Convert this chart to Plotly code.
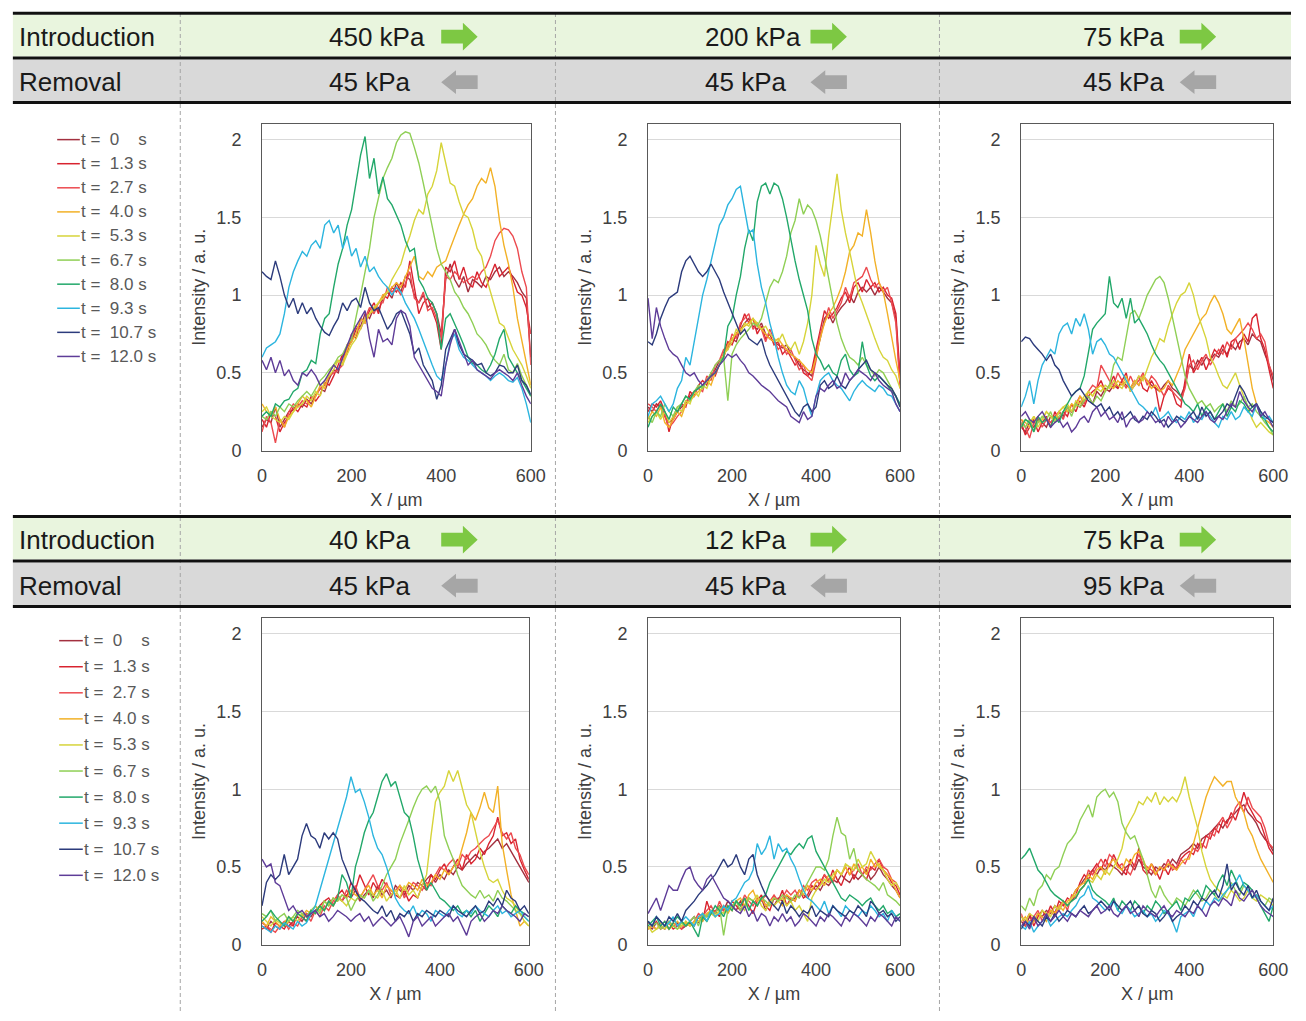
import plotly.graph_objects as go

W, H = 1306, 1021

# ---------------- data ----------------
X_UM = list(range(0, 601, 10))
LEGEND_LABELS = ["t =  0    s", "t =  1.3 s", "t =  2.7 s", "t =  4.0 s", "t =  5.3 s",
                 "t =  6.7 s", "t =  8.0 s", "t =  9.3 s", "t =  10.7 s", "t =  12.0 s"]
COLORS = ["#a3303f", "#d8232f", "#ec4a4f", "#f2b127", "#d6d43a",
          "#8fcf55", "#22a86a", "#2cb5df", "#2c3b7c", "#5e3c98"]
INTRO_P = ["450 kPa", "200 kPa", "75 kPa", "40 kPa", "12 kPa", "75 kPa"]
REMOVAL_P = ["45 kPa", "45 kPa", "45 kPa", "45 kPa", "45 kPa", "95 kPa"]
X_TICKS = [0, 200, 400, 600]
Y_TICKS = [0, 0.5, 1, 1.5, 2]
Y_TICK_TEXT = ["0", "0.5", "1", "1.5", "2"]

# Panel 1 : 450 kPa / 45 kPa
p1_t00 = [0.15,0.20,0.18,0.28,0.15,0.20,0.25,0.26,0.30,0.28,
          0.33,0.30,0.36,0.40,0.38,0.46,0.52,0.50,0.60,0.66,
          0.70,0.78,0.80,0.88,0.85,0.92,0.90,0.98,1.02,0.98,
          1.08,1.02,1.12,1.10,1.00,0.95,1.00,0.92,0.95,0.88,
          0.75,1.10,1.20,1.10,1.05,1.12,1.02,1.10,1.08,1.05,
          1.12,1.10,1.15,1.18,1.12,1.15,1.12,1.08,1.02,0.98,0.60]
p1_t13 = [0.20,0.15,0.25,0.22,0.12,0.18,0.22,0.28,0.25,0.30,
          0.28,0.35,0.32,0.36,0.44,0.42,0.48,0.55,0.62,0.62,
          0.75,0.72,0.85,0.82,0.90,0.95,0.88,1.00,0.98,1.05,
          1.02,1.08,1.05,1.22,1.05,0.88,0.95,0.98,0.90,0.82,
          0.65,1.18,1.15,1.22,1.10,1.18,1.08,1.05,1.15,1.08,
          1.05,1.12,1.20,1.12,1.15,1.18,1.10,1.02,1.00,0.92,0.75]
p1_t27 = [0.12,0.22,0.18,0.05,0.20,0.15,0.25,0.30,0.28,0.32,
          0.30,0.33,0.35,0.40,0.42,0.48,0.50,0.52,0.55,0.68,
          0.72,0.80,0.78,0.85,0.92,0.88,0.95,0.95,1.05,1.02,
          1.05,1.00,1.08,1.15,0.98,0.95,1.02,0.90,0.92,0.85,
          0.72,1.12,1.10,1.15,1.12,1.08,1.10,1.12,1.10,1.15,
          1.18,1.25,1.35,1.40,1.43,1.42,1.38,1.30,1.15,1.05,0.55]
p1_t40 = [0.30,0.25,0.22,0.28,0.20,0.15,0.22,0.25,0.30,0.35,
          0.32,0.28,0.35,0.42,0.40,0.50,0.55,0.58,0.56,0.65,
          0.70,0.75,0.85,0.82,0.88,0.90,0.95,1.00,1.02,1.05,
          1.08,1.05,1.12,1.18,1.25,1.12,1.10,1.15,1.12,1.18,
          1.20,1.22,1.30,1.38,1.45,1.52,1.58,1.62,1.70,1.75,
          1.72,1.82,1.70,1.48,1.32,1.20,1.05,0.85,0.70,0.55,0.42]
p1_t53 = [0.25,0.28,0.22,0.20,0.18,0.22,0.20,0.25,0.28,0.30,
          0.35,0.32,0.38,0.35,0.45,0.48,0.52,0.58,0.55,0.62,
          0.68,0.72,0.78,0.85,0.88,0.92,0.95,0.98,1.02,1.10,
          1.15,1.20,1.30,1.38,1.48,1.55,1.52,1.65,1.70,1.80,
          1.98,1.85,1.72,1.70,1.60,1.52,1.50,1.42,1.30,1.25,
          1.12,1.02,0.92,0.82,0.80,0.72,0.65,0.60,0.55,0.48,0.40]
p1_t67 = [0.22,0.20,0.25,0.22,0.28,0.25,0.30,0.28,0.32,0.35,
          0.38,0.35,0.40,0.45,0.48,0.52,0.55,0.60,0.62,0.68,
          0.72,0.85,1.00,1.15,1.30,1.50,1.62,1.75,1.82,1.88,
          1.98,2.03,2.05,2.04,1.95,1.85,1.72,1.58,1.45,1.30,
          1.20,1.15,1.10,1.02,0.98,0.92,0.88,0.82,0.75,0.72,
          0.68,0.62,0.58,0.55,0.62,0.52,0.50,0.56,0.48,0.42,0.35]
p1_t80 = [0.22,0.25,0.22,0.30,0.28,0.32,0.33,0.38,0.40,0.50,
          0.52,0.58,0.56,0.75,0.85,0.88,1.05,1.20,1.30,1.45,
          1.55,1.72,1.90,2.02,1.75,1.88,1.65,1.76,1.62,1.58,
          1.52,1.45,1.35,1.28,1.30,1.10,1.05,0.98,0.95,0.88,
          0.65,0.85,0.88,0.82,0.75,0.68,0.60,0.56,0.55,0.52,
          0.50,0.55,0.62,0.72,0.78,0.60,0.55,0.50,0.45,0.40,0.35]
p1_t93 = [0.60,0.66,0.68,0.70,0.75,0.88,1.05,1.15,1.22,1.28,
          1.25,1.32,1.35,1.30,1.45,1.48,1.40,1.45,1.30,1.38,
          1.25,1.30,1.18,1.25,1.15,1.18,1.12,1.08,1.05,1.00,
          1.05,1.02,0.95,0.90,0.85,0.78,0.70,0.62,0.55,0.48,
          0.45,0.55,0.70,0.75,0.65,0.60,0.58,0.55,0.52,0.50,
          0.48,0.45,0.48,0.50,0.48,0.45,0.44,0.47,0.40,0.30,0.18]
p1_t107 = [1.15,1.12,1.10,1.22,1.12,1.00,0.92,0.98,0.88,0.95,
           0.88,0.92,0.85,0.80,0.76,0.74,0.80,0.85,0.95,0.90,
           0.96,0.98,0.92,1.05,0.95,0.90,0.92,0.85,0.78,0.82,
           0.88,0.90,0.82,0.75,0.62,0.66,0.55,0.50,0.45,0.33,
           0.42,0.65,0.72,0.78,0.68,0.62,0.60,0.58,0.55,0.56,
           0.50,0.48,0.50,0.55,0.54,0.50,0.50,0.55,0.45,0.42,0.36]
p1_t120 = [0.58,0.52,0.60,0.50,0.58,0.48,0.52,0.45,0.42,0.50,
           0.48,0.52,0.48,0.42,0.45,0.50,0.55,0.52,0.60,0.68,
           0.75,0.80,0.85,0.90,0.72,0.60,0.78,0.70,0.72,0.68,
           0.85,0.90,0.88,0.80,0.60,0.55,0.50,0.45,0.40,0.38,
           0.35,0.55,0.68,0.78,0.70,0.62,0.55,0.58,0.52,0.50,
           0.48,0.46,0.50,0.52,0.50,0.48,0.45,0.50,0.42,0.35,0.30]

# Panel 2 : 200 kPa / 45 kPa
p2_t00 = [0.28,0.25,0.30,0.28,0.22,0.18,0.20,0.25,0.28,0.30,
          0.35,0.38,0.40,0.42,0.45,0.48,0.52,0.58,0.60,0.68,
          0.72,0.70,0.78,0.82,0.85,0.80,0.78,0.82,0.75,0.72,
          0.70,0.68,0.66,0.68,0.62,0.60,0.55,0.52,0.50,0.48,
          0.62,0.72,0.85,0.88,0.82,0.88,0.92,0.95,1.00,0.95,
          1.02,1.05,1.02,1.05,1.00,1.05,1.02,0.98,0.95,0.85,0.42]
p2_t13 = [0.25,0.30,0.28,0.32,0.25,0.12,0.22,0.25,0.30,0.28,
          0.38,0.35,0.42,0.45,0.42,0.50,0.48,0.55,0.62,0.70,
          0.68,0.75,0.80,0.88,0.82,0.85,0.75,0.80,0.72,0.75,
          0.68,0.70,0.62,0.65,0.60,0.55,0.58,0.50,0.48,0.52,
          0.65,0.78,0.90,0.85,0.88,0.92,0.98,1.02,0.95,1.05,
          1.08,1.02,1.10,1.05,1.08,1.02,1.05,1.00,0.98,0.88,0.48]
p2_t27 = [0.30,0.28,0.25,0.30,0.22,0.15,0.18,0.22,0.25,0.32,
          0.33,0.38,0.40,0.38,0.48,0.45,0.55,0.58,0.65,0.65,
          0.75,0.72,0.82,0.85,0.88,0.78,0.82,0.78,0.70,0.78,
          0.72,0.65,0.68,0.62,0.65,0.58,0.52,0.55,0.48,0.45,
          0.58,0.75,0.82,0.92,0.85,0.90,0.95,1.05,0.98,1.08,
          1.10,1.12,1.18,1.10,1.05,1.08,1.02,1.05,0.95,0.82,0.40]
p2_t40 = [0.20,0.25,0.22,0.28,0.18,0.15,0.20,0.25,0.22,0.30,
          0.32,0.35,0.38,0.40,0.45,0.42,0.50,0.55,0.60,0.68,
          0.72,0.75,0.78,0.80,0.82,0.85,0.80,0.78,0.75,0.72,
          0.70,0.72,0.68,0.65,0.62,0.60,0.58,0.55,0.52,0.50,
          0.60,0.72,0.82,0.88,0.92,0.98,1.05,1.15,1.28,1.32,
          1.40,1.38,1.55,1.40,1.22,1.08,1.02,0.88,0.72,0.58,0.45]
p2_t53 = [0.18,0.22,0.25,0.20,0.25,0.18,0.22,0.28,0.25,0.32,
          0.30,0.38,0.35,0.42,0.40,0.48,0.50,0.55,0.62,0.65,
          0.70,0.78,0.75,0.82,0.80,0.85,0.82,0.78,0.80,0.75,
          0.72,0.70,0.75,0.68,0.65,0.70,0.62,0.70,0.82,1.00,
          1.32,1.20,1.12,1.38,1.58,1.78,1.55,1.40,1.28,1.15,
          1.02,0.95,0.88,0.80,0.72,0.65,0.60,0.58,0.52,0.48,0.40]
p2_t67 = [0.22,0.18,0.25,0.22,0.30,0.25,0.22,0.28,0.30,0.35,
          0.32,0.38,0.42,0.40,0.45,0.50,0.55,0.58,0.60,0.32,
          0.62,0.68,0.72,0.75,0.78,0.82,0.80,0.85,0.95,1.05,
          1.10,1.08,1.15,1.25,1.40,1.48,1.62,1.52,1.58,1.55,
          1.48,1.38,1.25,1.10,0.95,0.82,0.72,0.65,0.60,0.58,
          0.55,0.60,0.55,0.52,0.48,0.52,0.50,0.45,0.40,0.35,0.28]
p2_t80 = [0.15,0.22,0.25,0.30,0.25,0.20,0.28,0.25,0.30,0.35,
          0.33,0.38,0.40,0.42,0.45,0.48,0.50,0.55,0.60,0.80,
          0.85,1.00,1.12,1.30,1.42,1.35,1.60,1.70,1.72,1.65,
          1.72,1.70,1.62,1.50,1.35,1.22,1.10,1.00,0.90,0.72,
          0.62,0.58,0.52,0.55,0.50,0.48,0.58,0.62,0.52,0.48,
          0.50,0.70,0.55,0.48,0.45,0.48,0.45,0.42,0.38,0.35,0.30]
p2_t93 = [0.22,0.30,0.32,0.35,0.30,0.25,0.30,0.40,0.45,0.60,
          0.55,0.70,0.85,1.00,1.10,1.22,1.35,1.45,1.50,1.58,
          1.62,1.68,1.70,1.55,1.40,1.42,1.20,1.05,0.95,0.82,
          0.72,0.60,0.50,0.42,0.38,0.36,0.45,0.40,0.30,0.22,
          0.35,0.45,0.48,0.50,0.45,0.42,0.40,0.36,0.32,0.38,
          0.42,0.45,0.42,0.40,0.38,0.42,0.40,0.36,0.35,0.30,0.25]
p2_t107 = [0.70,0.68,0.75,0.85,0.92,0.98,1.00,1.02,1.15,1.22,
           1.25,1.20,1.15,1.12,1.15,1.20,1.15,1.10,1.02,0.95,
           0.88,0.82,0.75,0.78,0.72,0.70,0.68,0.72,0.62,0.55,
           0.50,0.45,0.40,0.35,0.30,0.25,0.22,0.28,0.30,0.25,
           0.28,0.42,0.45,0.40,0.42,0.48,0.42,0.40,0.45,0.48,
           0.52,0.55,0.58,0.52,0.50,0.48,0.45,0.42,0.40,0.35,0.28]
p2_t120 = [0.98,0.72,0.92,0.80,0.72,0.65,0.62,0.60,0.55,0.50,
           0.48,0.50,0.45,0.42,0.45,0.48,0.50,0.55,0.58,0.62,
           0.60,0.62,0.58,0.55,0.50,0.48,0.45,0.42,0.40,0.38,
           0.35,0.32,0.30,0.28,0.22,0.20,0.18,0.25,0.20,0.22,
           0.35,0.40,0.38,0.42,0.45,0.40,0.42,0.50,0.45,0.48,
           0.52,0.50,0.48,0.45,0.50,0.45,0.42,0.40,0.38,0.30,0.25]

# Panel 3 : 75 kPa / 45 kPa
p3_t00 = [0.15,0.12,0.18,0.15,0.20,0.18,0.15,0.22,0.20,0.25,
          0.22,0.28,0.25,0.30,0.28,0.32,0.35,0.30,0.38,0.35,
          0.40,0.38,0.42,0.40,0.45,0.42,0.40,0.45,0.42,0.48,
          0.45,0.42,0.40,0.38,0.42,0.45,0.40,0.38,0.35,0.42,
          0.55,0.52,0.58,0.55,0.60,0.58,0.62,0.60,0.65,0.62,
          0.68,0.65,0.70,0.72,0.68,0.75,0.72,0.70,0.62,0.55,0.45]
p3_t13 = [0.18,0.10,0.15,0.20,0.12,0.18,0.22,0.15,0.25,0.20,
          0.25,0.22,0.30,0.25,0.32,0.28,0.35,0.38,0.40,0.45,
          0.38,0.42,0.48,0.40,0.45,0.50,0.38,0.42,0.48,0.40,
          0.38,0.45,0.40,0.25,0.35,0.40,0.38,0.30,0.28,0.45,
          0.62,0.50,0.55,0.60,0.52,0.58,0.65,0.62,0.68,0.60,
          0.70,0.72,0.65,0.75,0.70,0.85,0.88,0.72,0.65,0.52,0.40]
p3_t27 = [0.20,0.15,0.08,0.18,0.22,0.15,0.20,0.18,0.22,0.25,
          0.20,0.28,0.25,0.30,0.35,0.30,0.38,0.42,0.40,0.55,
          0.50,0.45,0.42,0.50,0.45,0.40,0.48,0.42,0.45,0.50,
          0.42,0.48,0.45,0.40,0.35,0.42,0.38,0.35,0.32,0.40,
          0.55,0.58,0.52,0.58,0.62,0.55,0.60,0.65,0.62,0.70,
          0.65,0.72,0.75,0.78,0.82,0.78,0.72,0.75,0.70,0.55,0.48]
p3_t40 = [0.20,0.18,0.15,0.22,0.18,0.20,0.25,0.22,0.20,0.25,
          0.28,0.25,0.30,0.28,0.35,0.32,0.38,0.35,0.40,0.42,
          0.38,0.42,0.40,0.45,0.42,0.48,0.40,0.45,0.42,0.48,
          0.45,0.40,0.42,0.38,0.40,0.45,0.42,0.48,0.55,0.65,
          0.70,0.75,0.80,0.85,0.88,0.95,1.00,0.95,0.88,0.78,
          0.75,0.80,0.85,0.72,0.55,0.40,0.30,0.25,0.20,0.18,0.15]
p3_t53 = [0.15,0.20,0.18,0.22,0.15,0.20,0.25,0.22,0.18,0.25,
          0.28,0.30,0.25,0.32,0.30,0.35,0.38,0.35,0.40,0.38,
          0.42,0.40,0.45,0.42,0.40,0.45,0.38,0.42,0.48,0.45,
          0.52,0.60,0.65,0.72,0.70,0.80,0.88,0.95,1.00,1.02,
          1.08,1.00,0.88,0.80,0.72,0.60,0.55,0.48,0.42,0.40,
          0.45,0.50,0.42,0.35,0.28,0.20,0.15,0.18,0.15,0.12,0.10]
p3_t67 = [0.18,0.15,0.20,0.12,0.18,0.22,0.20,0.25,0.18,0.22,
          0.25,0.28,0.22,0.30,0.28,0.32,0.35,0.30,0.35,0.32,
          0.38,0.42,0.55,0.60,0.58,0.72,0.88,0.90,0.85,0.92,
          1.00,1.05,1.10,1.12,1.08,0.98,0.85,0.72,0.60,0.48,
          0.40,0.35,0.30,0.32,0.28,0.30,0.25,0.28,0.30,0.25,
          0.32,0.28,0.30,0.35,0.28,0.30,0.25,0.22,0.18,0.15,0.10]
p3_t80 = [0.15,0.20,0.18,0.12,0.22,0.18,0.20,0.15,0.22,0.18,
          0.25,0.30,0.35,0.38,0.40,0.48,0.62,0.78,0.82,0.85,
          0.88,1.12,0.95,0.92,0.98,0.85,0.98,0.82,0.85,0.80,
          0.75,0.68,0.62,0.58,0.55,0.50,0.45,0.40,0.35,0.30,
          0.28,0.25,0.30,0.22,0.28,0.25,0.20,0.25,0.30,0.22,
          0.28,0.25,0.32,0.30,0.25,0.28,0.30,0.22,0.20,0.15,0.12]
p3_t93 = [0.28,0.35,0.45,0.30,0.45,0.55,0.60,0.65,0.62,0.75,
          0.80,0.82,0.75,0.85,0.80,0.88,0.78,0.62,0.70,0.72,
          0.68,0.62,0.60,0.55,0.50,0.45,0.40,0.35,0.30,0.28,
          0.25,0.22,0.28,0.20,0.22,0.25,0.20,0.18,0.22,0.20,
          0.25,0.18,0.22,0.20,0.25,0.22,0.18,0.15,0.22,0.20,
          0.25,0.20,0.22,0.28,0.25,0.22,0.30,0.25,0.20,0.22,0.18]
p3_t107 = [0.70,0.73,0.72,0.68,0.65,0.62,0.58,0.62,0.55,0.52,
           0.45,0.40,0.35,0.38,0.40,0.36,0.32,0.30,0.28,0.30,
           0.25,0.28,0.22,0.25,0.20,0.22,0.25,0.20,0.18,0.22,
           0.20,0.25,0.22,0.18,0.20,0.15,0.18,0.22,0.20,0.18,
           0.22,0.25,0.20,0.28,0.22,0.25,0.20,0.22,0.25,0.30,
           0.28,0.35,0.42,0.38,0.32,0.28,0.30,0.25,0.22,0.20,0.18]
p3_t120 = [0.22,0.25,0.20,0.18,0.22,0.25,0.20,0.15,0.18,0.20,
           0.15,0.18,0.12,0.15,0.20,0.22,0.18,0.25,0.28,0.22,
           0.25,0.20,0.22,0.18,0.25,0.15,0.20,0.22,0.18,0.20,
           0.25,0.22,0.18,0.20,0.15,0.22,0.18,0.20,0.15,0.18,
           0.22,0.20,0.18,0.22,0.25,0.20,0.18,0.22,0.20,0.25,
           0.30,0.28,0.38,0.32,0.28,0.25,0.30,0.22,0.25,0.20,0.15]

# Panel 4 : 40 kPa / 45 kPa
p4_t00 = [0.12,0.10,0.15,0.12,0.10,0.14,0.12,0.15,0.18,0.15,
          0.20,0.18,0.22,0.25,0.22,0.28,0.25,0.30,0.28,0.32,
          0.30,0.35,0.28,0.32,0.35,0.30,0.38,0.32,0.35,0.30,
          0.38,0.35,0.32,0.38,0.35,0.40,0.38,0.42,0.45,0.40,
          0.45,0.42,0.48,0.45,0.50,0.48,0.52,0.55,0.58,0.55,
          0.60,0.62,0.65,0.68,0.62,0.65,0.60,0.55,0.50,0.45,0.40]
p4_t13 = [0.10,0.12,0.08,0.14,0.12,0.10,0.15,0.12,0.20,0.18,
          0.15,0.22,0.20,0.25,0.28,0.30,0.25,0.32,0.35,0.30,
          0.40,0.35,0.45,0.38,0.32,0.40,0.35,0.42,0.38,0.35,
          0.32,0.30,0.35,0.28,0.32,0.30,0.38,0.35,0.45,0.42,
          0.48,0.52,0.45,0.50,0.55,0.48,0.58,0.52,0.55,0.62,
          0.58,0.65,0.70,0.82,0.70,0.72,0.65,0.68,0.55,0.48,0.42]
p4_t27 = [0.14,0.12,0.10,0.08,0.12,0.15,0.10,0.14,0.12,0.18,
          0.20,0.15,0.22,0.18,0.25,0.22,0.28,0.32,0.28,0.35,
          0.32,0.38,0.30,0.35,0.40,0.45,0.38,0.35,0.40,0.32,
          0.35,0.38,0.30,0.35,0.40,0.38,0.35,0.40,0.38,0.45,
          0.50,0.48,0.52,0.55,0.50,0.58,0.55,0.60,0.62,0.65,
          0.68,0.70,0.75,0.80,0.72,0.68,0.72,0.62,0.58,0.50,0.45]
p4_t40 = [0.15,0.12,0.18,0.15,0.12,0.14,0.18,0.15,0.20,0.18,
          0.22,0.20,0.25,0.22,0.28,0.25,0.30,0.28,0.32,0.30,
          0.35,0.32,0.30,0.35,0.38,0.32,0.35,0.30,0.38,0.35,
          0.32,0.38,0.35,0.40,0.38,0.35,0.42,0.38,0.40,0.45,
          0.42,0.48,0.45,0.50,0.52,0.62,0.72,0.85,0.80,0.88,
          0.98,0.88,0.85,1.02,0.65,0.48,0.32,0.22,0.12,0.15,0.12]
p4_t53 = [0.18,0.15,0.12,0.16,0.14,0.12,0.15,0.18,0.15,0.20,
          0.18,0.22,0.20,0.25,0.22,0.28,0.25,0.30,0.28,0.25,
          0.30,0.28,0.32,0.30,0.35,0.32,0.30,0.35,0.28,0.32,
          0.35,0.30,0.38,0.32,0.35,0.30,0.38,0.45,0.70,0.92,
          0.98,1.02,1.12,1.05,1.12,1.00,0.90,0.85,0.72,0.60,
          0.50,0.42,0.40,0.42,0.35,0.30,0.28,0.25,0.20,0.15,0.12]
p4_t67 = [0.20,0.18,0.22,0.15,0.18,0.20,0.15,0.18,0.22,0.20,
          0.18,0.22,0.25,0.20,0.28,0.25,0.30,0.28,0.32,0.30,
          0.22,0.28,0.32,0.30,0.35,0.28,0.32,0.38,0.45,0.50,
          0.55,0.65,0.72,0.80,0.88,0.95,1.00,1.02,0.98,1.02,
          0.92,0.70,0.62,0.55,0.45,0.38,0.35,0.32,0.30,0.35,
          0.30,0.32,0.28,0.35,0.30,0.28,0.25,0.22,0.20,0.18,0.15]
p4_t80 = [0.15,0.18,0.22,0.18,0.15,0.12,0.18,0.15,0.20,0.18,
          0.15,0.22,0.20,0.25,0.22,0.28,0.25,0.30,0.45,0.40,
          0.30,0.50,0.60,0.72,0.80,0.85,0.95,1.05,1.10,1.02,
          1.05,0.95,0.85,0.82,0.70,0.55,0.45,0.35,0.40,0.35,
          0.30,0.28,0.25,0.22,0.25,0.20,0.22,0.18,0.22,0.15,
          0.20,0.25,0.22,0.18,0.25,0.22,0.20,0.25,0.22,0.20,0.18]
p4_t93 = [0.12,0.10,0.08,0.12,0.10,0.14,0.12,0.10,0.15,0.12,
          0.14,0.20,0.25,0.35,0.45,0.55,0.65,0.75,0.85,0.95,
          1.08,0.98,1.00,0.92,0.82,0.70,0.62,0.58,0.50,0.40,
          0.30,0.25,0.22,0.20,0.25,0.18,0.22,0.20,0.15,0.22,
          0.20,0.18,0.22,0.25,0.20,0.18,0.22,0.20,0.25,0.22,
          0.20,0.18,0.22,0.25,0.20,0.22,0.18,0.20,0.22,0.18,0.15]
p4_t107 = [0.25,0.40,0.45,0.42,0.45,0.58,0.45,0.50,0.55,0.70,
           0.78,0.70,0.68,0.62,0.72,0.68,0.72,0.68,0.55,0.48,
           0.40,0.35,0.30,0.28,0.25,0.22,0.20,0.25,0.18,0.22,
           0.15,0.20,0.18,0.22,0.15,0.20,0.18,0.22,0.20,0.18,
           0.22,0.20,0.18,0.25,0.22,0.20,0.18,0.22,0.25,0.20,
           0.22,0.28,0.25,0.30,0.25,0.35,0.30,0.28,0.22,0.25,0.20]
p4_t120 = [0.55,0.50,0.52,0.40,0.38,0.30,0.22,0.25,0.20,0.22,
           0.18,0.20,0.22,0.18,0.20,0.15,0.18,0.22,0.20,0.18,
           0.15,0.18,0.20,0.15,0.18,0.12,0.15,0.18,0.15,0.12,
           0.15,0.18,0.12,0.05,0.15,0.18,0.12,0.15,0.18,0.12,
           0.15,0.18,0.20,0.15,0.18,0.12,0.06,0.15,0.18,0.20,
           0.15,0.18,0.22,0.20,0.25,0.22,0.20,0.18,0.15,0.20,0.18]

# Panel 5 : 12 kPa / 45 kPa
p5_t00 = [0.12,0.10,0.14,0.12,0.10,0.15,0.12,0.14,0.10,0.12,
          0.15,0.18,0.14,0.20,0.18,0.22,0.20,0.25,0.22,0.28,
          0.25,0.22,0.28,0.25,0.30,0.28,0.25,0.30,0.22,0.28,
          0.25,0.30,0.28,0.32,0.28,0.30,0.35,0.32,0.30,0.35,
          0.38,0.35,0.40,0.38,0.42,0.40,0.45,0.42,0.40,0.45,
          0.42,0.45,0.48,0.42,0.45,0.50,0.45,0.42,0.38,0.35,0.30]
p5_t13 = [0.10,0.12,0.15,0.10,0.12,0.14,0.10,0.12,0.15,0.12,
          0.14,0.12,0.18,0.15,0.28,0.20,0.22,0.18,0.25,0.22,
          0.28,0.25,0.22,0.30,0.25,0.20,0.28,0.32,0.25,0.22,
          0.30,0.28,0.35,0.25,0.30,0.28,0.35,0.30,0.32,0.38,
          0.35,0.40,0.45,0.40,0.48,0.42,0.38,0.45,0.50,0.42,
          0.48,0.45,0.42,0.50,0.48,0.55,0.48,0.45,0.40,0.38,0.32]
p5_t27 = [0.14,0.12,0.10,0.12,0.15,0.10,0.14,0.12,0.10,0.15,
          0.12,0.15,0.20,0.18,0.22,0.25,0.20,0.28,0.22,0.25,
          0.22,0.28,0.25,0.32,0.28,0.25,0.30,0.28,0.32,0.28,
          0.32,0.28,0.30,0.35,0.32,0.35,0.30,0.38,0.35,0.40,
          0.42,0.38,0.45,0.42,0.40,0.48,0.45,0.50,0.45,0.48,
          0.52,0.45,0.50,0.48,0.52,0.55,0.50,0.48,0.42,0.40,0.35]
p5_t40 = [0.10,0.12,0.10,0.14,0.12,0.10,0.12,0.15,0.12,0.14,
          0.12,0.15,0.18,0.15,0.20,0.22,0.18,0.22,0.25,0.20,
          0.25,0.28,0.30,0.25,0.32,0.35,0.28,0.30,0.25,0.28,
          0.30,0.28,0.25,0.32,0.30,0.28,0.35,0.32,0.38,0.35,
          0.40,0.42,0.38,0.45,0.42,0.48,0.45,0.50,0.45,0.52,
          0.48,0.50,0.45,0.55,0.50,0.52,0.48,0.45,0.42,0.35,0.30]
p5_t53 = [0.12,0.08,0.10,0.12,0.10,0.14,0.12,0.10,0.12,0.15,
          0.12,0.14,0.15,0.18,0.15,0.20,0.18,0.22,0.20,0.25,
          0.22,0.28,0.25,0.22,0.30,0.28,0.32,0.25,0.22,0.28,
          0.25,0.28,0.30,0.25,0.28,0.22,0.25,0.20,0.15,0.30,
          0.35,0.38,0.42,0.40,0.45,0.48,0.45,0.52,0.50,0.48,
          0.55,0.50,0.52,0.60,0.55,0.50,0.48,0.42,0.38,0.40,0.35]
p5_t67 = [0.15,0.12,0.14,0.10,0.12,0.15,0.12,0.10,0.14,0.12,
          0.15,0.18,0.12,0.20,0.18,0.22,0.20,0.25,0.06,0.22,
          0.25,0.28,0.22,0.25,0.30,0.28,0.25,0.30,0.28,0.25,
          0.30,0.28,0.32,0.30,0.28,0.32,0.30,0.35,0.40,0.45,
          0.50,0.50,0.48,0.55,0.70,0.82,0.72,0.70,0.55,0.62,
          0.48,0.45,0.42,0.40,0.38,0.35,0.40,0.32,0.30,0.28,0.25]
p5_t80 = [0.12,0.15,0.18,0.12,0.15,0.10,0.14,0.18,0.15,0.12,
          0.15,0.10,0.05,0.18,0.15,0.20,0.25,0.22,0.18,0.25,
          0.22,0.28,0.25,0.30,0.22,0.28,0.25,0.30,0.32,0.40,
          0.45,0.50,0.55,0.60,0.58,0.62,0.65,0.62,0.68,0.70,
          0.60,0.55,0.50,0.45,0.40,0.35,0.30,0.28,0.32,0.30,
          0.28,0.25,0.28,0.30,0.25,0.22,0.25,0.20,0.22,0.18,0.20]
p5_t93 = [0.15,0.12,0.18,0.15,0.12,0.14,0.18,0.12,0.15,0.18,
          0.15,0.12,0.18,0.20,0.15,0.22,0.18,0.20,0.25,0.22,
          0.28,0.30,0.35,0.40,0.42,0.48,0.65,0.58,0.62,0.70,
          0.55,0.65,0.60,0.62,0.55,0.50,0.42,0.35,0.30,0.28,
          0.25,0.22,0.28,0.20,0.25,0.22,0.18,0.25,0.22,0.20,
          0.18,0.22,0.20,0.25,0.22,0.18,0.20,0.15,0.22,0.18,0.15]
p5_t107 = [0.15,0.12,0.18,0.15,0.12,0.18,0.15,0.20,0.15,0.22,
           0.25,0.28,0.32,0.35,0.38,0.42,0.45,0.50,0.55,0.50,
           0.52,0.58,0.50,0.45,0.55,0.58,0.45,0.38,0.32,0.28,
           0.25,0.22,0.28,0.20,0.25,0.22,0.18,0.22,0.20,0.25,
           0.18,0.22,0.20,0.18,0.25,0.22,0.20,0.18,0.22,0.20,
           0.25,0.22,0.18,0.28,0.25,0.20,0.22,0.18,0.20,0.15,0.18]
p5_t120 = [0.20,0.25,0.30,0.22,0.30,0.38,0.35,0.35,0.42,0.48,
           0.50,0.42,0.38,0.35,0.42,0.45,0.40,0.35,0.30,0.28,
           0.25,0.22,0.20,0.25,0.18,0.22,0.15,0.20,0.18,0.12,
           0.18,0.15,0.20,0.15,0.18,0.12,0.15,0.20,0.18,0.15,
           0.12,0.18,0.15,0.20,0.18,0.15,0.12,0.18,0.15,0.20,
           0.18,0.15,0.12,0.18,0.15,0.20,0.18,0.15,0.12,0.18,0.15]

# Panel 6 : 75 kPa / 95 kPa
p6_t00 = [0.15,0.12,0.18,0.15,0.20,0.18,0.22,0.20,0.25,0.22,
          0.28,0.25,0.30,0.35,0.38,0.42,0.45,0.48,0.45,0.50,
          0.48,0.52,0.50,0.48,0.45,0.50,0.52,0.48,0.55,0.50,
          0.48,0.45,0.50,0.48,0.52,0.50,0.55,0.52,0.58,0.60,
          0.62,0.65,0.62,0.68,0.70,0.72,0.75,0.78,0.75,0.80,
          0.82,0.85,0.88,0.90,0.85,0.82,0.78,0.72,0.68,0.65,0.60]
p6_t13 = [0.18,0.15,0.20,0.12,0.18,0.22,0.18,0.25,0.20,0.28,
          0.25,0.30,0.28,0.32,0.40,0.45,0.42,0.48,0.52,0.48,
          0.55,0.50,0.58,0.52,0.48,0.45,0.55,0.50,0.62,0.48,
          0.45,0.52,0.48,0.42,0.50,0.45,0.52,0.48,0.55,0.58,
          0.60,0.58,0.65,0.62,0.70,0.68,0.75,0.72,0.80,0.78,
          0.85,0.80,0.88,0.98,0.90,0.85,0.80,0.78,0.70,0.62,0.58]
p6_t27 = [0.20,0.12,0.15,0.18,0.22,0.15,0.20,0.22,0.18,0.25,
          0.28,0.22,0.32,0.30,0.35,0.38,0.48,0.45,0.50,0.55,
          0.50,0.58,0.55,0.50,0.52,0.48,0.45,0.52,0.58,0.52,
          0.50,0.48,0.45,0.50,0.48,0.55,0.48,0.50,0.55,0.52,
          0.58,0.62,0.60,0.65,0.62,0.72,0.70,0.78,0.82,0.75,
          0.80,0.88,0.92,0.85,0.95,0.88,0.85,0.82,0.75,0.65,0.62]
p6_t40 = [0.15,0.18,0.12,0.15,0.20,0.18,0.15,0.22,0.20,0.25,
          0.22,0.28,0.30,0.35,0.38,0.40,0.45,0.42,0.48,0.50,
          0.45,0.52,0.55,0.50,0.48,0.55,0.52,0.58,0.60,0.55,
          0.48,0.52,0.45,0.50,0.48,0.52,0.50,0.48,0.52,0.55,
          0.55,0.65,0.75,0.85,0.95,1.02,1.08,1.05,1.02,1.05,
          1.05,0.95,0.90,0.85,0.75,0.70,0.62,0.55,0.50,0.45,0.40]
p6_t53 = [0.18,0.15,0.20,0.18,0.15,0.22,0.20,0.18,0.25,0.22,
          0.28,0.25,0.30,0.32,0.35,0.38,0.42,0.40,0.45,0.42,
          0.48,0.45,0.50,0.55,0.62,0.75,0.80,0.85,0.92,0.90,
          0.95,0.92,0.98,0.90,0.95,0.92,0.95,0.92,0.98,1.08,
          0.95,0.85,0.75,0.60,0.50,0.42,0.38,0.35,0.32,0.30,
          0.35,0.32,0.28,0.30,0.35,0.30,0.28,0.32,0.30,0.28,0.25]
p6_t67 = [0.25,0.22,0.30,0.25,0.35,0.38,0.45,0.42,0.48,0.50,
          0.58,0.65,0.68,0.72,0.80,0.85,0.90,0.82,0.95,0.98,
          1.00,0.95,0.98,0.92,0.78,0.72,0.68,0.70,0.62,0.55,
          0.45,0.35,0.30,0.38,0.32,0.28,0.25,0.30,0.28,0.25,
          0.30,0.35,0.32,0.28,0.30,0.35,0.32,0.28,0.30,0.35,
          0.40,0.35,0.32,0.38,0.35,0.30,0.32,0.28,0.25,0.30,0.28]
p6_t80 = [0.55,0.58,0.62,0.55,0.48,0.45,0.40,0.35,0.32,0.30,
          0.28,0.25,0.28,0.30,0.35,0.38,0.42,0.35,0.32,0.30,
          0.28,0.25,0.30,0.22,0.28,0.25,0.22,0.28,0.25,0.20,
          0.25,0.22,0.28,0.25,0.20,0.22,0.25,0.28,0.22,0.30,
          0.28,0.32,0.35,0.30,0.38,0.35,0.32,0.40,0.45,0.38,
          0.48,0.42,0.35,0.40,0.38,0.35,0.30,0.25,0.20,0.15,0.25]
p6_t93 = [0.12,0.10,0.15,0.08,0.12,0.15,0.18,0.12,0.15,0.18,
          0.20,0.18,0.22,0.25,0.30,0.32,0.38,0.30,0.28,0.25,
          0.22,0.25,0.28,0.22,0.20,0.25,0.22,0.18,0.20,0.22,
          0.18,0.20,0.15,0.18,0.22,0.20,0.15,0.08,0.18,0.20,
          0.22,0.18,0.25,0.22,0.28,0.25,0.30,0.28,0.32,0.35,
          0.38,0.40,0.45,0.38,0.35,0.30,0.32,0.28,0.25,0.22,0.25]
p6_t107 = [0.10,0.15,0.12,0.18,0.15,0.12,0.18,0.15,0.20,0.15,
           0.18,0.22,0.20,0.18,0.22,0.25,0.20,0.22,0.25,0.28,
           0.25,0.22,0.28,0.25,0.22,0.25,0.28,0.22,0.25,0.20,
           0.18,0.22,0.20,0.15,0.18,0.22,0.15,0.18,0.20,0.25,
           0.22,0.28,0.25,0.30,0.28,0.32,0.35,0.30,0.38,0.52,
           0.35,0.40,0.35,0.32,0.38,0.30,0.35,0.28,0.25,0.22,0.30]
p6_t120 = [0.12,0.15,0.10,0.18,0.12,0.15,0.20,0.15,0.18,0.22,
           0.18,0.15,0.20,0.18,0.22,0.20,0.18,0.22,0.25,0.20,
           0.22,0.25,0.20,0.18,0.22,0.25,0.20,0.22,0.18,0.25,
           0.22,0.20,0.18,0.22,0.25,0.20,0.18,0.22,0.20,0.18,
           0.22,0.20,0.25,0.22,0.18,0.25,0.28,0.25,0.30,0.28,
           0.25,0.35,0.30,0.28,0.32,0.35,0.30,0.25,0.22,0.20,0.18]

PANEL_SERIES = [
    [p1_t00, p1_t13, p1_t27, p1_t40, p1_t53, p1_t67, p1_t80, p1_t93, p1_t107, p1_t120],
    [p2_t00, p2_t13, p2_t27, p2_t40, p2_t53, p2_t67, p2_t80, p2_t93, p2_t107, p2_t120],
    [p3_t00, p3_t13, p3_t27, p3_t40, p3_t53, p3_t67, p3_t80, p3_t93, p3_t107, p3_t120],
    [p4_t00, p4_t13, p4_t27, p4_t40, p4_t53, p4_t67, p4_t80, p4_t93, p4_t107, p4_t120],
    [p5_t00, p5_t13, p5_t27, p5_t40, p5_t53, p5_t67, p5_t80, p5_t93, p5_t107, p5_t120],
    [p6_t00, p6_t13, p6_t27, p6_t40, p6_t53, p6_t67, p6_t80, p6_t93, p6_t107, p6_t120],
]

# ---------------- layout (pixel geometry) ----------------
PANEL_PX = [(261, 534, 125.3, 455), (653, 909, 125.3, 455), (1032, 1288, 125.3, 455),
            (261, 532, 624.3, 954), (653, 909, 624.3, 954), (1032, 1288, 624.3, 954)]
COL_SEP_X = [178, 559, 949]
COL_TEXT_X = [327, 709, 1093]
COL_ARROW_X = [443, 818, 1193]
BLOCKS = [dict(lines=[13.5, 58.5, 103.5], green=(15, 57), gray=(60, 102)),
          dict(lines=[521.5, 566.5, 612.5], green=(523, 565), gray=(568, 611))]
LEGEND_BLOCKS = [dict(y0=141, dy=24.33, lx0=53, lx1=76, tx=75),
                 dict(y0=647, dy=26.33, lx0=55, lx1=79, tx=78)]

FONT = "Liberation Sans, Arial, sans-serif"
TXT = "#404040"
HDR_SIZE = 26


def px(x):
    return x / W


def py(y):
    return 1 - y / H


fig = go.Figure()

for i, series in enumerate(PANEL_SERIES):
    xa = "x" if i == 0 else f"x{i + 1}"
    ya = "y" if i == 0 else f"y{i + 1}"
    for k, vals in enumerate(series):
        fig.add_trace(go.Scatter(
            x=X_UM[:len(vals)], y=vals, mode="lines", name=LEGEND_LABELS[k],
            line=dict(color=COLORS[k], width=1.4), xaxis=xa, yaxis=ya,
            showlegend=False, hoverinfo="skip"))
    l, r, t, b = PANEL_PX[i]
    xkey = "xaxis" if i == 0 else f"xaxis{i + 1}"
    ykey = "yaxis" if i == 0 else f"yaxis{i + 1}"
    fig.layout[xkey] = dict(
        domain=[px(l), px(r)], anchor=ya, range=[0, 600], tickvals=X_TICKS,
        showgrid=False, zeroline=False, showline=True, mirror=True,
        linecolor="#595959", linewidth=1, ticks="", ticklabelstandoff=9,
        tickfont=dict(size=18, color=TXT, family=FONT),
        title=dict(text="X / µm", font=dict(size=18, color=TXT, family=FONT), standoff=8))
    fig.layout[ykey] = dict(
        domain=[py(b), py(t)], anchor=xa, range=[0, 2.1], tickvals=Y_TICKS,
        ticktext=Y_TICK_TEXT, showgrid=True, gridcolor="#d9d9d9", gridwidth=1,
        zeroline=False, showline=True, mirror=True, linecolor="#595959", linewidth=1,
        ticks="", ticklabelstandoff=16,
        tickfont=dict(size=18, color=TXT, family=FONT),
        title=dict(text="Intensity / a. u.", font=dict(size=18, color=TXT, family=FONT), standoff=6))

shapes = []
annotations = []

# header bands
for blk in BLOCKS:
    g0, g1 = blk["green"]
    r0, r1 = blk["gray"]
    shapes.append(dict(type="rect", xref="paper", yref="paper", x0=px(8), x1=1,
                       y0=py(g1), y1=py(g0), fillcolor="#e9f5de", line=dict(width=0)))
    shapes.append(dict(type="rect", xref="paper", yref="paper", x0=px(8), x1=1,
                       y0=py(r1), y1=py(r0), fillcolor="#d9d9d9", line=dict(width=0)))

# dashed column separators
for sx in COL_SEP_X:
    shapes.append(dict(type="line", xref="paper", yref="paper", x0=px(sx), x1=px(sx),
                       y0=0, y1=py(14), line=dict(color="#a6a6a6", width=1, dash="4px,3px")))

for bi, blk in enumerate(BLOCKS):
    for ly in blk["lines"]:
        shapes.append(dict(type="line", xref="paper", yref="paper", x0=px(8), x1=1,
                           y0=py(ly), y1=py(ly), line=dict(color="#111111", width=3)))
    gc = (blk["green"][0] + blk["green"][1]) / 2 + 1
    rc = (blk["gray"][0] + blk["gray"][1]) / 2 + 2
    annotations.append(dict(text="Introduction", x=px(12), y=py(gc), xref="paper", yref="paper",
                            xanchor="left", yanchor="middle", showarrow=False,
                            font=dict(size=HDR_SIZE, color="#1a1a1a", family=FONT)))
    annotations.append(dict(text="Removal", x=px(12), y=py(rc), xref="paper", yref="paper",
                            xanchor="left", yanchor="middle", showarrow=False,
                            font=dict(size=HDR_SIZE, color="#1a1a1a", family=FONT)))
    for c in range(3):
        pi = bi * 3 + c
        annotations.append(dict(text=INTRO_P[pi], x=px(COL_TEXT_X[c]), y=py(gc), xref="paper",
                                yref="paper", xanchor="left", yanchor="middle", showarrow=False,
                                font=dict(size=HDR_SIZE, color="#1a1a1a", family=FONT)))
        annotations.append(dict(text=REMOVAL_P[pi], x=px(COL_TEXT_X[c]), y=py(rc), xref="paper",
                                yref="paper", xanchor="left", yanchor="middle", showarrow=False,
                                font=dict(size=HDR_SIZE, color="#1a1a1a", family=FONT)))
        L = COL_ARROW_X[c]
        c1 = gc
        pts = [(L, c1 - 7), (L + 22, c1 - 7), (L + 22, c1 - 14), (L + 37, c1),
               (L + 22, c1 + 14), (L + 22, c1 + 7), (L, c1 + 7)]
        path = "M " + " L ".join(f"{px(a):.5f},{py(b):.5f}" for a, b in pts) + " Z"
        shapes.append(dict(type="path", xref="paper", yref="paper", path=path,
                           fillcolor="#7dc843", line=dict(width=0)))
        c2 = rc
        pts = [(L, c2), (L + 15, c2 - 12), (L + 15, c2 - 7), (L + 37, c2 - 7),
               (L + 37, c2 + 7), (L + 15, c2 + 7), (L + 15, c2 + 12)]
        path = "M " + " L ".join(f"{px(a):.5f},{py(b):.5f}" for a, b in pts) + " Z"
        shapes.append(dict(type="path", xref="paper", yref="paper", path=path,
                           fillcolor="#a6a6a6", line=dict(width=0)))

# legends (one per row of panels)
for lb in LEGEND_BLOCKS:
    for k, lab in enumerate(LEGEND_LABELS):
        yy = lb["y0"] + lb["dy"] * k
        shapes.append(dict(type="line", xref="paper", yref="paper", x0=px(lb["lx0"]),
                           x1=px(lb["lx1"]), y0=py(yy), y1=py(yy),
                           line=dict(color=COLORS[k], width=1.5)))
        annotations.append(dict(text=lab.replace(" ", "\u00a0"), x=px(lb["tx"]), y=py(yy),
                                xref="paper", yref="paper", xanchor="left", yanchor="middle",
                                showarrow=False, font=dict(size=17, color="#595959", family=FONT)))

fig.update_layout(
    width=W, height=H, margin=dict(l=0, r=0, t=0, b=0),
    paper_bgcolor="white", plot_bgcolor="white", showlegend=False,
    font=dict(family=FONT, color=TXT), shapes=shapes, annotations=annotations)

fig.write_html("out.html")
